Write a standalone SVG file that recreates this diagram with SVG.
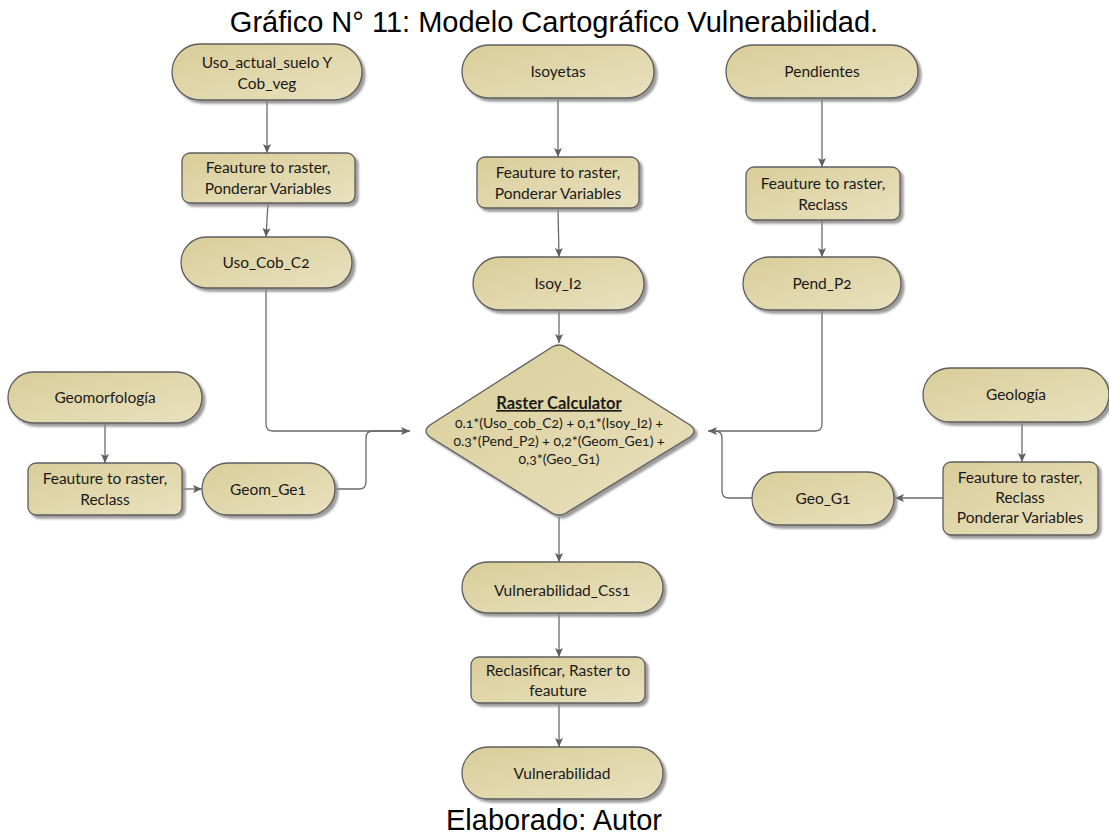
<svg xmlns="http://www.w3.org/2000/svg" width="1109" height="834" viewBox="0 0 1109 834">
  <defs>
    <linearGradient id="tan" x1="0" y1="0" x2="1" y2="1">
      <stop offset="0" stop-color="#d9cd98"/>
      <stop offset="1" stop-color="#e9e1bf"/>
    </linearGradient>
    <filter id="shadow" x="-10%" y="-10%" width="130%" height="140%">
      <feDropShadow dx="3" dy="3" stdDeviation="1" flood-color="#8a8a8a" flood-opacity="0.85"/>
    </filter>
    <marker id="arrow" markerUnits="userSpaceOnUse" markerWidth="10" markerHeight="10" viewBox="0 0 10 10" refX="9" refY="5" orient="auto">
      <path d="M0,1 L9,5 L0,9 L2,5 Z" fill="#5f5f5f"/>
    </marker>
  </defs>
  <style>
    .shape { fill: url(#tan); stroke: #5e5e5e; stroke-width: 1.3; filter: url(#shadow); }
    .lbl { font-family: Lato, "Open Sans", sans-serif; font-size: 15.5px; fill: #1a1a1a; text-anchor: middle; font-variant-numeric: oldstyle-nums; }
    .formula { font-size: 14px; }
    .head { font-weight: bold; font-size: 16.5px; text-decoration: underline; }
    .caption { font-family: "Liberation Sans", Arial, sans-serif; font-size: 29px; fill: #000; text-anchor: middle; }
    .link { fill: none; stroke: #6a6a6a; stroke-width: 1.3; }
  </style>

  <text class="caption" x="554" y="32">Gráfico N° 11: Modelo Cartográfico Vulnerabilidad.</text>

  <!-- connectors -->
  <g id="connectors">
    <path class="link" d="M267,100 V153" marker-end="url(#arrow)"/>
    <path class="link" d="M268,203 L266,237" marker-end="url(#arrow)"/>
    <path class="link" d="M266,288 V424 Q266,431 273,431 H410" marker-end="url(#arrow)"/>
    <path class="link" d="M335,489 H359 Q366,489 366,482 V438 Q366,431 373,431 H405"/>
    <path class="link" d="M105,423 V463" marker-end="url(#arrow)"/>
    <path class="link" d="M182,489 H202" marker-end="url(#arrow)"/>
    <path class="link" d="M558,98 V157" marker-end="url(#arrow)"/>
    <path class="link" d="M558,208 L559,257" marker-end="url(#arrow)"/>
    <path class="link" d="M559,310 V343" marker-end="url(#arrow)"/>
    <path class="link" d="M822,98 V167" marker-end="url(#arrow)"/>
    <path class="link" d="M822,220 V257" marker-end="url(#arrow)"/>
    <path class="link" d="M822,310 V424 Q822,431 815,431 H708" marker-end="url(#arrow)"/>
    <path class="link" d="M752,498 H729 Q722,498 722,491 V438 Q722,431 715,431 H712"/>
    <path class="link" d="M1022,422 V462" marker-end="url(#arrow)"/>
    <path class="link" d="M943,498 H895" marker-end="url(#arrow)"/>
    <path class="link" d="M559,517 V562" marker-end="url(#arrow)"/>
    <path class="link" d="M559,613 V657" marker-end="url(#arrow)"/>
    <path class="link" d="M559,703 V747" marker-end="url(#arrow)"/>
  </g>

  <g id="uso-actual">
    <rect class="shape" x="172" y="44" width="190" height="56" rx="28"/>
    <text class="lbl" x="267" y="68">Uso_actual_suelo Y</text>
    <text class="lbl" x="267" y="89">Cob_veg</text>
  </g>
  <g id="isoyetas">
    <rect class="shape" x="462" y="45" width="192" height="53" rx="26.5"/>
    <text class="lbl" x="558" y="77">Isoyetas</text>
  </g>
  <g id="pendientes">
    <rect class="shape" x="726" y="45" width="192" height="53" rx="26.5"/>
    <text class="lbl" x="822" y="77">Pendientes</text>
  </g>
  <g id="proc-uso">
    <rect class="shape" x="182" y="153" width="173" height="50" rx="8"/>
    <text class="lbl" x="268" y="173">Feauture to raster,</text>
    <text class="lbl" x="268" y="194">Ponderar Variables</text>
  </g>
  <g id="proc-isoyetas">
    <rect class="shape" x="477" y="157" width="162" height="51" rx="8"/>
    <text class="lbl" x="558" y="178">Feauture to raster,</text>
    <text class="lbl" x="558" y="199">Ponderar Variables</text>
  </g>
  <g id="proc-pendientes">
    <rect class="shape" x="746" y="167" width="154" height="53" rx="8"/>
    <text class="lbl" x="823" y="189">Feauture to raster,</text>
    <text class="lbl" x="823" y="210">Reclass</text>
  </g>
  <g id="uso-cob-c2">
    <rect class="shape" x="181" y="237" width="171" height="51" rx="25.5"/>
    <text class="lbl" x="266" y="268">Uso_Cob_C2</text>
  </g>
  <g id="isoy-i2">
    <rect class="shape" x="473" y="257" width="171" height="53" rx="26.5"/>
    <text class="lbl" x="558" y="289">Isoy_I2</text>
  </g>
  <g id="pend-p2">
    <rect class="shape" x="743" y="257" width="158" height="53" rx="26.5"/>
    <text class="lbl" x="822" y="289">Pend_P2</text>
  </g>
  <g id="raster-calculator">
    <path class="shape" d="M552,347 Q559,343 566,347 L690,425 Q698,431 690,437 L566,513 Q559,517 552,513 L430,437 Q422,431 430,425 Z"/>
    <text class="lbl head" x="559" y="409">Raster Calculator</text>
    <text class="lbl formula" x="559" y="428">0.1*(Uso_cob_C2) + 0,1*(Isoy_I2) +</text>
    <text class="lbl formula" x="559" y="446">0.3*(Pend_P2) + 0,2*(Geom_Ge1) +</text>
    <text class="lbl formula" x="559" y="464">0,3*(Geo_G1)</text>
  </g>
  <g id="geomorfologia">
    <rect class="shape" x="8" y="372" width="194" height="51" rx="25.5"/>
    <text class="lbl" x="105" y="403">Geomorfología</text>
  </g>
  <g id="proc-geomorfologia">
    <rect class="shape" x="28" y="463" width="154" height="52" rx="8"/>
    <text class="lbl" x="105" y="484">Feauture to raster,</text>
    <text class="lbl" x="105" y="505">Reclass</text>
  </g>
  <g id="geom-ge1">
    <rect class="shape" x="202" y="463" width="133" height="52" rx="26"/>
    <text class="lbl" x="268" y="495">Geom_Ge1</text>
  </g>
  <g id="geologia">
    <rect class="shape" x="923" y="368" width="186" height="54" rx="27"/>
    <text class="lbl" x="1016" y="400">Geología</text>
  </g>
  <g id="proc-geologia">
    <rect class="shape" x="943" y="462" width="155" height="73" rx="8"/>
    <text class="lbl" x="1020" y="483">Feauture to raster,</text>
    <text class="lbl" x="1020" y="503">Reclass</text>
    <text class="lbl" x="1020" y="523">Ponderar Variables</text>
  </g>
  <g id="geo-g1">
    <rect class="shape" x="752" y="472" width="142" height="53" rx="26.5"/>
    <text class="lbl" x="823" y="504">Geo_G1</text>
  </g>
  <g id="vulnerabilidad-css1">
    <rect class="shape" x="462" y="562" width="201" height="51" rx="25.5"/>
    <text class="lbl" x="562" y="596">Vulnerabilidad_Css1</text>
  </g>
  <g id="reclasificar">
    <rect class="shape" x="471" y="657" width="174" height="46" rx="8"/>
    <text class="lbl" x="558" y="676">Reclasificar, Raster to</text>
    <text class="lbl" x="558" y="696">feauture</text>
  </g>
  <g id="vulnerabilidad">
    <rect class="shape" x="462" y="747" width="201" height="52" rx="26"/>
    <text class="lbl" x="562" y="779">Vulnerabilidad</text>
  </g>

  <text class="caption" x="554" y="830">Elaborado: Autor</text>
</svg>
